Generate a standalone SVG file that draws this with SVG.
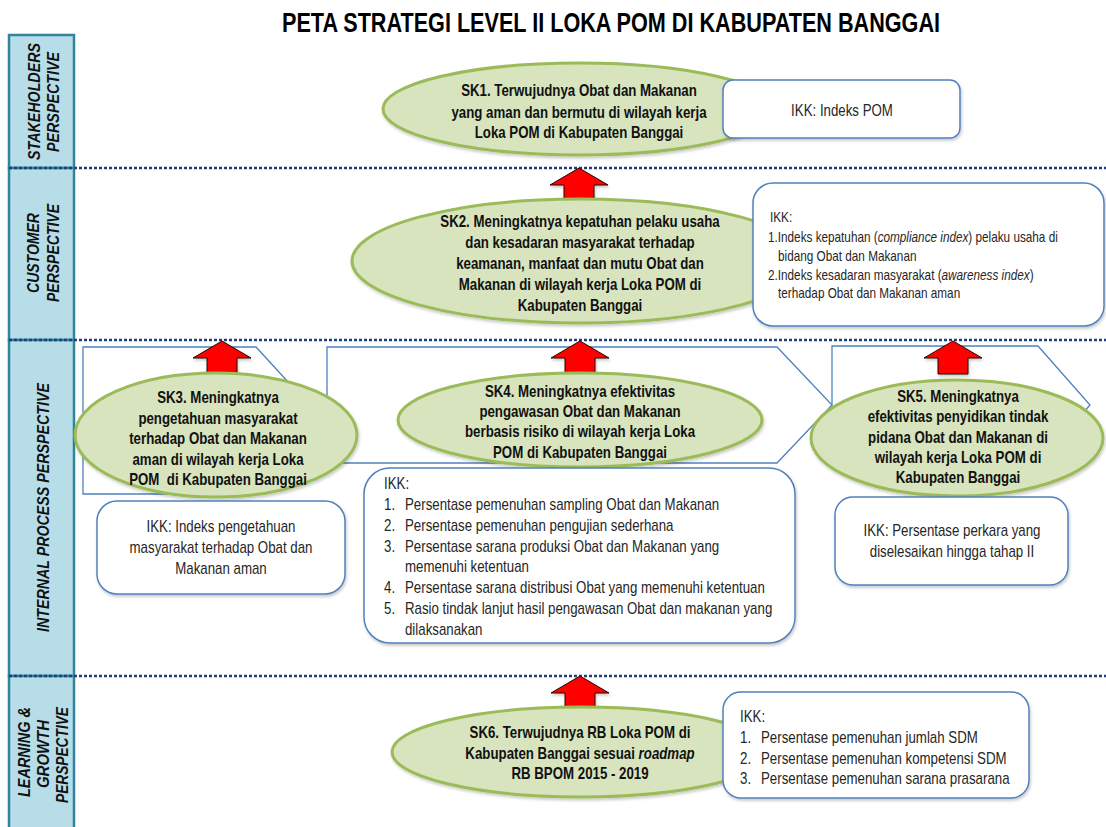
<svg xmlns="http://www.w3.org/2000/svg" width="1106" height="827" viewBox="0 0 1106 827">
<defs>
<style>
.bar{fill:#b7dde8;stroke:#31849b;stroke-width:2.5}
.plab{font-family:"Liberation Sans",Arial,sans-serif;font-weight:bold;font-style:italic;font-size:17px;fill:#111}
.sep{stroke:#203f7a;stroke-width:2.6;stroke-dasharray:3 2;fill:none}
.obj{fill:#d7e4bd;stroke:#9bbb59;stroke-width:3;filter:url(#sh)}
.box{fill:#fff;stroke:#4f81bd;stroke-width:1.5;filter:url(#sh)}
.frame{fill:#fff;stroke:#4f81bd;stroke-width:1.3}
.skt{font-family:"Liberation Sans",Arial,sans-serif;font-weight:bold;font-size:16px;fill:#111;text-anchor:middle}
.ikc{font-family:"Liberation Sans",Arial,sans-serif;font-size:16px;fill:#262626;text-anchor:middle}
.ikl{font-family:"Liberation Sans",Arial,sans-serif;font-size:16px;fill:#262626}
.iks{font-family:"Liberation Sans",Arial,sans-serif;font-size:14px;fill:#262626}
.arr{fill:#ff0000;stroke:#2a0000;stroke-width:1;filter:url(#sh)}
</style>
<filter id="sh" x="-10%" y="-10%" width="120%" height="130%">
<feDropShadow dx="1" dy="2" stdDeviation="1.5" flood-color="#000" flood-opacity="0.22"/>
</filter>
<path id="up" d="M0,0 L29,17 L15,17 L15,33 L-15,33 L-15,17 L-29,17 Z"/>
</defs>
<rect width="1106" height="827" fill="#fff"/>

<text x="611" y="32" text-anchor="middle" textLength="658" lengthAdjust="spacingAndGlyphs" font-family="'Liberation Sans',Arial,sans-serif" font-weight="bold" font-size="27" fill="#000">PETA STRATEGI LEVEL II LOKA POM DI KABUPATEN BANGGAI</text>

<g id="perspectives">
<rect class="bar" x="9" y="35" width="65" height="133"/>
<rect class="bar" x="9" y="168" width="65" height="172"/>
<rect class="bar" x="9" y="340" width="65" height="336"/>
<rect class="bar" x="9" y="676" width="65" height="160"/>
<text class="plab" transform="translate(40,101.5) rotate(-90)" text-anchor="middle" textLength="117" lengthAdjust="spacingAndGlyphs">STAKEHOLDERS</text>
<text class="plab" transform="translate(59,102) rotate(-90)" text-anchor="middle" textLength="100" lengthAdjust="spacingAndGlyphs">PERSPECTIVE</text>
<text class="plab" transform="translate(39,253) rotate(-90)" text-anchor="middle" textLength="80" lengthAdjust="spacingAndGlyphs">CUSTOMER</text>
<text class="plab" transform="translate(59,253) rotate(-90)" text-anchor="middle" textLength="98" lengthAdjust="spacingAndGlyphs">PERSPECTIVE</text>
<text class="plab" transform="translate(49,507.5) rotate(-90)" text-anchor="middle" textLength="249" lengthAdjust="spacingAndGlyphs">INTERNAL PROCESS PERSPECTIVE</text>
<text class="plab" transform="translate(30,752) rotate(-90)" text-anchor="middle" textLength="90" lengthAdjust="spacingAndGlyphs">LEARNING &amp;</text>
<text class="plab" transform="translate(49,754) rotate(-90)" text-anchor="middle" textLength="68" lengthAdjust="spacingAndGlyphs">GROWTH</text>
<text class="plab" transform="translate(68,755) rotate(-90)" text-anchor="middle" textLength="96" lengthAdjust="spacingAndGlyphs">PERSPECTIVE</text>
</g>

<g id="separators">
<line class="sep" x1="9" y1="168" x2="1106" y2="168"/>
<line class="sep" x1="9" y1="340" x2="1106" y2="340"/>
<line class="sep" x1="9" y1="676" x2="1106" y2="676"/>
</g>

<g id="frames">
<path class="frame" d="M83,347 H256 L323,420 L256,494 H83 Z"/>
<path class="frame" d="M327,347 H777 L832,405 L777,463 H327 Z"/>
<path class="frame" d="M832,346 H1038 L1090,405 L1038,463 H832 Z"/>
</g>

<g id="connectors">
<use href="#up" class="arr" x="579" y="168"/>
<use href="#up" class="arr" x="222" y="341"/>
<use href="#up" class="arr" x="580" y="341"/>
<use href="#up" class="arr" x="953" y="341"/>
<use href="#up" class="arr" x="580" y="676"/>
</g>

<g id="sk1">
<ellipse class="obj" cx="579" cy="109" rx="196" ry="46"/>
<g transform="translate(579,0) scale(0.83,1)">
<text class="skt" x="0" y="96">SK1. Terwujudnya Obat dan Makanan</text>
<text class="skt" x="0" y="118">yang aman dan bermutu di wilayah kerja</text>
<text class="skt" x="0" y="138">Loka POM di Kabupaten Banggai</text>
</g>
</g>
<g id="ikk1">
<rect class="box" x="723" y="80" width="237" height="58" rx="10"/>
<g transform="translate(842,0) scale(0.83,1)">
<text class="ikc" x="0" y="116">IKK: Indeks POM</text>
</g>
</g>

<g id="sk2">
<ellipse class="obj" cx="580" cy="261" rx="228" ry="62"/>
<g transform="translate(580,0) scale(0.83,1)">
<text class="skt" x="0" y="227">SK2. Meningkatnya kepatuhan pelaku usaha</text>
<text class="skt" x="0" y="248">dan kesadaran masyarakat terhadap</text>
<text class="skt" x="0" y="269">keamanan, manfaat dan mutu Obat dan</text>
<text class="skt" x="0" y="290">Makanan di wilayah kerja Loka POM di</text>
<text class="skt" x="0" y="311">Kabupaten Banggai</text>
</g>
</g>
<g id="ikk2">
<rect class="box" x="753" y="183" width="351" height="143" rx="20"/>
<g transform="translate(768,0) scale(0.84,1)">
<text class="iks" x="2.4" y="222">IKK:</text>
<text class="iks" x="0" y="242">1.Indeks kepatuhan (<tspan font-style="italic">compliance index</tspan>) pelaku usaha di</text>
<text class="iks" x="12" y="261">bidang Obat dan Makanan</text>
<text class="iks" x="0" y="280">2.Indeks kesadaran masyarakat (<tspan font-style="italic">awareness index</tspan>)</text>
<text class="iks" x="12" y="298">terhadap Obat dan Makanan aman</text>
</g>
</g>

<g id="sk3">
<ellipse class="obj" cx="216" cy="435" rx="141" ry="62"/>
<g transform="translate(218,0) scale(0.83,1)">
<text class="skt" x="0" y="403">SK3. Meningkatnya</text>
<text class="skt" x="0" y="424">pengetahuan masyarakat</text>
<text class="skt" x="0" y="444">terhadap Obat dan Makanan</text>
<text class="skt" x="0" y="465">aman di wilayah kerja Loka</text>
<text class="skt" x="0" y="485" xml:space="preserve">POM  di Kabupaten Banggai</text>
</g>
</g>
<g id="ikk3">
<rect class="box" x="97" y="501" width="248" height="93" rx="20"/>
<g transform="translate(221,0) scale(0.83,1)">
<text class="ikc" x="0" y="532">IKK: Indeks pengetahuan</text>
<text class="ikc" x="0" y="553">masyarakat terhadap Obat dan</text>
<text class="ikc" x="0" y="574">Makanan aman</text>
</g>
</g>

<g id="sk4">
<ellipse class="obj" cx="580" cy="420" rx="182" ry="47"/>
<g transform="translate(580,0) scale(0.83,1)">
<text class="skt" x="0" y="397">SK4. Meningkatnya efektivitas</text>
<text class="skt" x="0" y="417">pengawasan Obat dan Makanan</text>
<text class="skt" x="0" y="437">berbasis risiko di wilayah kerja Loka</text>
<text class="skt" x="0" y="458">POM di Kabupaten Banggai</text>
</g>
</g>
<g id="ikk4">
<rect class="box" x="364" y="468" width="431" height="175" rx="26"/>
<g transform="translate(384,0) scale(0.83,1)">
<text class="ikl" x="0" y="489">IKK:</text>
<text class="ikl" x="0" y="510">1.</text><text class="ikl" x="25.3" y="510">Persentase pemenuhan sampling Obat dan Makanan</text>
<text class="ikl" x="0" y="531">2.</text><text class="ikl" x="25.3" y="531">Persentase pemenuhan pengujian sederhana</text>
<text class="ikl" x="0" y="552">3.</text><text class="ikl" x="25.3" y="552">Persentase sarana produksi Obat dan Makanan yang</text>
<text class="ikl" x="25.3" y="572">memenuhi ketentuan</text>
<text class="ikl" x="0" y="593">4.</text><text class="ikl" x="25.3" y="593">Persentase sarana distribusi Obat yang memenuhi ketentuan</text>
<text class="ikl" x="0" y="614">5.</text><text class="ikl" x="25.3" y="614">Rasio tindak lanjut hasil pengawasan Obat dan makanan yang</text>
<text class="ikl" x="25.3" y="635">dilaksanakan</text>
</g>
</g>

<g id="sk5">
<ellipse class="obj" cx="957" cy="438" rx="146" ry="58"/>
<g transform="translate(958,0) scale(0.83,1)">
<text class="skt" x="0" y="402">SK5. Meningkatnya</text>
<text class="skt" x="0" y="422">efektivitas penyidikan tindak</text>
<text class="skt" x="0" y="443">pidana Obat dan Makanan di</text>
<text class="skt" x="0" y="463">wilayah kerja Loka POM di</text>
<text class="skt" x="0" y="483">Kabupaten Banggai</text>
</g>
</g>
<g id="ikk5">
<rect class="box" x="835" y="497" width="233" height="88" rx="18"/>
<g transform="translate(952,0) scale(0.83,1)">
<text class="ikc" x="0" y="536">IKK: Persentase perkara yang</text>
<text class="ikc" x="0" y="557">diselesaikan hingga tahap II</text>
</g>
</g>

<g id="sk6">
<ellipse class="obj" cx="581" cy="752" rx="189" ry="45"/>
<g transform="translate(580,0) scale(0.83,1)">
<text class="skt" x="0" y="738">SK6. Terwujudnya RB Loka POM di</text>
<text class="skt" x="0" y="759">Kabupaten Banggai sesuai <tspan font-style="italic">roadmap</tspan></text>
<text class="skt" x="0" y="779">RB BPOM 2015 - 2019</text>
</g>
</g>
<g id="ikk6">
<rect class="box" x="723" y="692" width="306" height="106" rx="18"/>
<g transform="translate(740,0) scale(0.83,1)">
<text class="ikl" x="0" y="722">IKK:</text>
<text class="ikl" x="0" y="743">1.</text><text class="ikl" x="25.3" y="743">Persentase pemenuhan jumlah SDM</text>
<text class="ikl" x="0" y="764">2.</text><text class="ikl" x="25.3" y="764">Persentase pemenuhan kompetensi SDM</text>
<text class="ikl" x="0" y="784">3.</text><text class="ikl" x="25.3" y="784">Persentase pemenuhan sarana prasarana</text>
</g>
</g>
</svg>
